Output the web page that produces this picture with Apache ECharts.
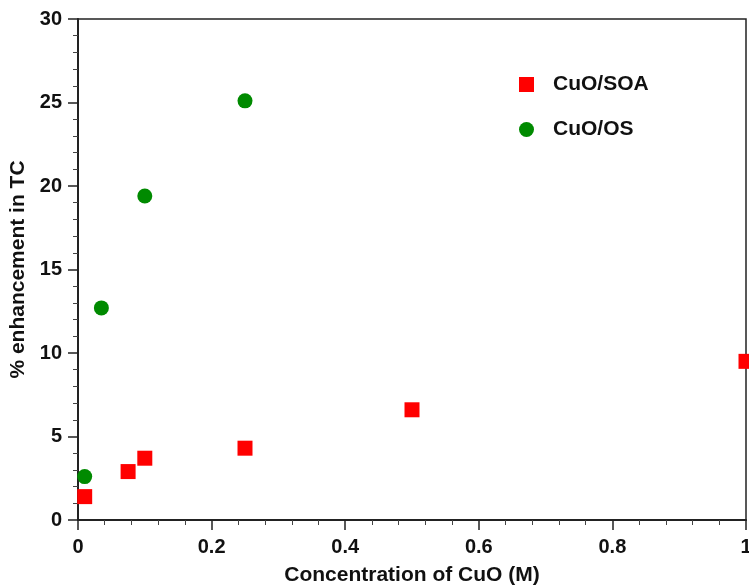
<!DOCTYPE html>
<html>
<head>
<meta charset="utf-8">
<script src="https://cdn.jsdelivr.net/npm/echarts@6/dist/echarts.min.js"></script>
<style>html,body{margin:0;padding:0;background:#fff}#c{width:749px;height:586px}</style>
</head>
<body>
<div id="c"></div>
<script>
const soaX = [0.01, 0.075, 0.1, 0.25, 0.5, 1.0];
const soaY = [1.4, 2.9, 3.7, 4.3, 6.6, 9.5];
const osX = [0.01, 0.035, 0.1, 0.25];
const osY = [2.6, 12.7, 19.4, 25.1];
const seriesNames = ['CuO/SOA', 'CuO/OS'];
const xTitle = 'Concentration of CuO (M)';
const yTitle = '% enhancement in TC';

const font = 'Liberation Sans, Arial, sans-serif';
const chart = echarts.init(document.getElementById('c'), null, {renderer: 'canvas'});
chart.setOption({
  animation: false,
  backgroundColor: '#fff',
  grid: {left: 78, right: 3, top: 19, bottom: 66, show: true, borderColor: '#222', borderWidth: 1.5,
    backgroundColor: 'transparent', containLabel: false, outerBoundsMode: 'none'},
  legend: {
    orient: 'vertical', left: 514, top: 69, itemGap: 24, itemWidth: 15, itemHeight: 15,
    data: seriesNames,
    textStyle: {fontFamily: font, fontWeight: 'bold', fontSize: 21, color: '#111', padding: [0, 0, 0, 14]}
  },
  xAxis: {
    type: 'value', min: 0, max: 1, interval: 0.2,
    name: xTitle, nameLocation: 'middle', nameGap: 45,
    nameTextStyle: {fontFamily: font, fontWeight: 'bold', fontSize: 21, color: '#111'},
    axisLine: {show: true, lineStyle: {color: '#222', width: 2}},
    axisTick: {show: true, length: 10, lineStyle: {color: '#222', width: 1.5}},
    minorTick: {show: true, splitNumber: 5, length: 5, lineStyle: {color: '#444', width: 1}},
    splitLine: {show: false},
    axisLabel: {fontFamily: font, fontWeight: 'bold', fontSize: 20, color: '#111', margin: 17,
      formatter: v => (v === 0 || v === 1) ? String(v) : v.toFixed(1)}
  },
  yAxis: {
    type: 'value', min: 0, max: 30, interval: 5,
    name: yTitle, nameLocation: 'middle', nameGap: 41, nameRotate: 90,
    nameTextStyle: {fontFamily: font, fontWeight: 'bold', fontSize: 21, color: '#111'},
    axisLine: {show: true, lineStyle: {color: '#222', width: 2}},
    axisTick: {show: true, length: 10, lineStyle: {color: '#222', width: 1.5}},
    minorTick: {show: true, splitNumber: 5, length: 5, lineStyle: {color: '#444', width: 1}},
    splitLine: {show: false},
    axisLabel: {fontFamily: font, fontWeight: 'bold', fontSize: 20, color: '#111', margin: 16}
  },
  series: [
    {name: seriesNames[0], type: 'scatter', symbol: 'rect', symbolSize: 15,
      itemStyle: {color: '#ff0000', opacity: 1},
      data: soaX.map((x, i) => [x, soaY[i]])},
    {name: seriesNames[1], type: 'scatter', symbol: 'circle', symbolSize: 15,
      itemStyle: {color: '#008a00', opacity: 1},
      data: osX.map((x, i) => [x, osY[i]])}
  ]
});
</script>
</body>
</html>
